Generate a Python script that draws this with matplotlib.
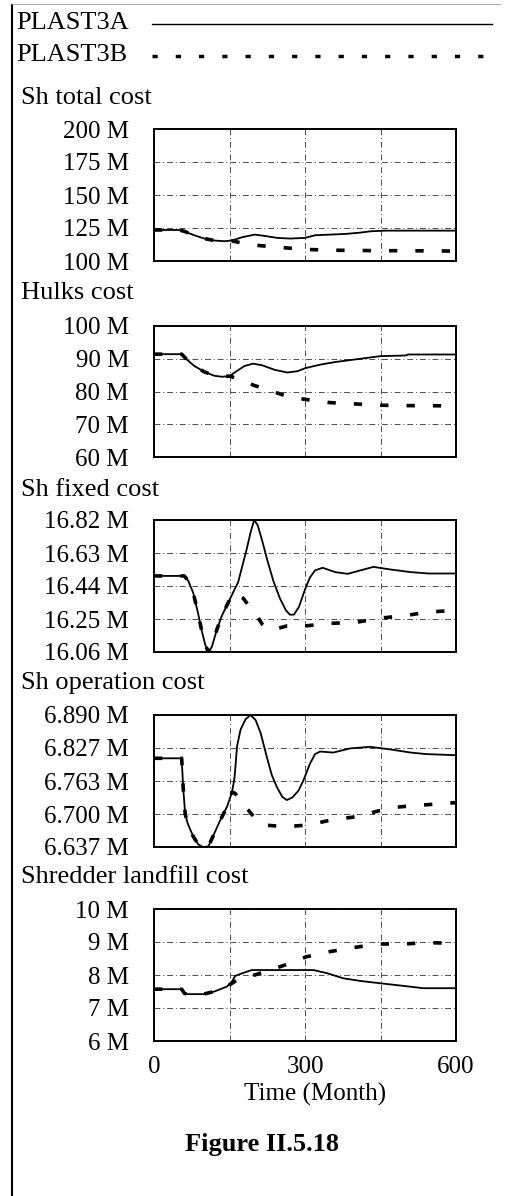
import matplotlib
matplotlib.use("Agg")
import matplotlib.pyplot as plt
from matplotlib.lines import Line2D

plt.rcParams['font.family'] = ['Liberation Serif', 'DejaVu Serif']

W, H = 506, 1196

# time axis
x_ticks = [0, 150, 300, 450, 600]
x_labels = ['0', '', '300', '', '600']

# Sh total cost (M)
total_t_a = [0, 50, 60, 80, 100, 120, 140, 155, 175, 200, 220, 245, 270, 300, 320, 350, 380, 410, 430, 460, 600]
total_a = [123.5, 123.5, 122.5, 119.5, 117, 115.5, 115, 115.5, 118, 120, 119, 117.5, 117, 117.5, 119.5, 120, 120.5, 121.5, 122.5, 123, 123]
total_t_b = [0, 50, 60, 80, 100, 120, 140, 155, 170, 200, 230, 260, 300, 350, 400, 450, 500, 600]
total_b = [123.5, 123.5, 122.5, 119.5, 117, 115.5, 115, 115.2, 114, 112, 111, 110, 108.8, 108.2, 108, 107.8, 107.8, 107.5]
total_ticks = [100, 125, 150, 175, 200]
total_labels = ['100 M', '125 M', '150 M', '175 M', '200 M']

# Hulks cost (M)
hulks_t_a = [0, 55, 65, 80, 100, 120, 135, 150, 165, 180, 197, 215, 240, 265, 285, 300, 330, 360, 400, 450, 500, 505, 600]
hulks_a = [91.4, 91.4, 89.8, 87.8, 86, 84.8, 84.5, 84.7, 86.3, 87.8, 88.5, 88, 86.6, 85.8, 86.2, 87.1, 88.2, 89, 89.8, 90.8, 91, 91.3, 91.3]
hulks_t_b = [0, 55, 65, 80, 100, 120, 135, 150, 165, 177, 200, 217, 240, 255, 280, 300, 350, 400, 450, 500, 600]
hulks_b = [91.4, 91.4, 89.8, 87.8, 86, 84.8, 84.5, 84.7, 84, 83.2, 81.8, 81, 79.8, 79, 78.1, 77.6, 76.6, 76.2, 75.8, 75.7, 75.6]
hulks_ticks = [60, 70, 80, 90, 100]
hulks_labels = ['60 M', '70 M', '80 M', '90 M', '100 M']

# Sh fixed cost (M)
fixed_t_a = [0, 60, 68, 78, 87, 95, 102, 108, 115, 125, 135, 150, 160, 167, 175, 184, 192, 199, 206, 215, 225, 237,
             250, 262, 270, 278, 288, 300, 310, 320, 335, 360, 385, 410, 436, 470, 510, 545, 600]
fixed_a = [16.498, 16.498, 16.47, 16.40, 16.29, 16.18, 16.10, 16.06, 16.09, 16.19, 16.27, 16.36, 16.42, 16.46, 16.55,
           16.65, 16.75, 16.82, 16.79, 16.70, 16.59, 16.47, 16.37, 16.30, 16.275, 16.275, 16.32, 16.42, 16.49, 16.53,
           16.545, 16.52, 16.51, 16.53, 16.55, 16.535, 16.52, 16.512, 16.512]
fixed_t_b = [0, 60, 68, 78, 87, 95, 102, 108, 115, 125, 135, 150, 160, 177, 190, 204, 215, 227, 245, 264, 300, 350,
             400, 450, 500, 545, 600]
fixed_b = [16.498, 16.498, 16.47, 16.40, 16.29, 16.18, 16.10, 16.06, 16.09, 16.19, 16.27, 16.36, 16.40, 16.37, 16.32,
           16.27, 16.22, 16.19, 16.195, 16.21, 16.21, 16.225, 16.23, 16.255, 16.27, 16.29, 16.30]
fixed_ticks = [16.06, 16.25, 16.44, 16.63, 16.82]
fixed_labels = ['16.06 M', '16.25 M', '16.44 M', '16.63 M', '16.82 M']

# Sh operation cost (M)
oper_t_a = [0, 55, 58, 62, 67, 78, 88, 97, 108, 117, 130, 145, 155, 160, 165, 172, 182, 192, 202, 212, 224, 234, 244,
            255, 264, 275, 287, 297, 310, 320, 330, 356, 390, 429, 470, 510, 542, 600]
oper_a = [6.807, 6.807, 6.75, 6.70, 6.682, 6.657, 6.642, 6.637, 6.638, 6.657, 6.685, 6.714, 6.742, 6.77, 6.83, 6.862,
          6.882, 6.890, 6.880, 6.855, 6.810, 6.775, 6.752, 6.733, 6.727, 6.732, 6.745, 6.765, 6.797, 6.815, 6.820,
          6.818, 6.826, 6.829, 6.824, 6.818, 6.815, 6.813]
oper_t_b = [0, 55, 58, 62, 67, 78, 88, 97, 108, 117, 130, 145, 155, 161, 175, 187, 200, 220, 260, 306, 353, 402, 445,
            489, 542, 600]
oper_b = [6.807, 6.807, 6.75, 6.70, 6.682, 6.657, 6.642, 6.637, 6.638, 6.657, 6.685, 6.714, 6.742, 6.740, 6.72, 6.708,
          6.693, 6.679, 6.676, 6.679, 6.689, 6.695, 6.706, 6.714, 6.718, 6.722]
oper_ticks = [6.637, 6.700, 6.763, 6.827, 6.890]
oper_labels = ['6.637 M', '6.700 M', '6.763 M', '6.827 M', '6.890 M']

# Shredder landfill cost (M)
land_t_a = [0, 55, 60, 65, 98, 120, 145, 155, 161, 175, 194, 317, 345, 376, 410, 449, 490, 535, 600]
land_a = [7.57, 7.57, 7.45, 7.42, 7.42, 7.50, 7.65, 7.80, 7.97, 8.05, 8.15, 8.15, 8.05, 7.90, 7.82, 7.75, 7.68, 7.60, 7.60]
land_t_b = [0, 55, 60, 65, 98, 120, 145, 165, 181, 200, 220, 260, 302, 350, 396, 446, 495, 545, 600]
land_b = [7.57, 7.57, 7.45, 7.42, 7.42, 7.50, 7.65, 7.85, 7.90, 8.00, 8.10, 8.30, 8.55, 8.71, 8.83, 8.94, 8.94, 8.98, 8.96]
land_ticks = [6, 7, 8, 9, 10]
land_labels = ['6 M', '7 M', '8 M', '9 M', '10 M']

panels = [
    ('Sh total cost', total_t_a, total_a, total_t_b, total_b, total_ticks, total_labels, 98, 129, 261),
    ('Hulks cost', hulks_t_a, hulks_a, hulks_t_b, hulks_b, hulks_ticks, hulks_labels, 293, 326, 457),
    ('Sh fixed cost', fixed_t_a, fixed_a, fixed_t_b, fixed_b, fixed_ticks, fixed_labels, 490, 520, 652),
    ('Sh operation cost', oper_t_a, oper_a, oper_t_b, oper_b, oper_ticks, oper_labels, 683, 715, 847),
    ('Shredder landfill cost', land_t_a, land_a, land_t_b, land_b, land_ticks, land_labels, 877, 909, 1041),
]


def fx(px):
    return px / W


def fy(py):
    return 1 - py / H


fig = plt.figure(figsize=(W / 100, H / 100), dpi=100)

# frame of the figure
fig.add_artist(Line2D([fx(12), fx(12)], [fy(5), fy(1196)], color='black', lw=1.5))
fig.add_artist(Line2D([fx(12), fx(500)], [fy(4), fy(4)], color='0.6', lw=0.6))

# legend
fig.text(fx(16), fy(23), 'PLAST3A', fontsize=19, va='center', ha='left')
fig.text(fx(16), fy(55), 'PLAST3B', fontsize=19, va='center', ha='left')
fig.add_artist(Line2D([fx(152), fx(492)], [fy(24), fy(24)], color='black', lw=1.0))
fig.add_artist(Line2D([fx(152), fx(492)], [fy(56), fy(56)], color='black', lw=2.5,
                      linestyle=(0, (1.5, 5.2)), dash_capstyle='butt'))

ax_left, ax_right = 154, 456
for i, (title, ta, va, tb, vb, yt, yl, ty, top, bot) in enumerate(panels):
    fig.text(fx(21), fy(ty), title, fontsize=19, va='center', ha='left')
    ax = fig.add_axes([fx(ax_left), fy(bot), fx(ax_right - ax_left), (bot - top) / H])
    ax.plot(ta, va, color='black', lw=1.3)
    ax.plot(tb, vb, color='black', lw=2.6, linestyle=(0, (2.3, 5.0)), dash_capstyle='butt')
    ax.set_xlim(0, 600)
    ax.set_ylim(yt[0], yt[-1])
    ax.set_yticks(yt)
    ax.set_yticklabels(yl, fontsize=18)
    ax.set_xticks(x_ticks)
    if i == len(panels) - 1:
        ax.set_xticklabels(x_labels, fontsize=18)
    else:
        ax.set_xticklabels([])
    ax.tick_params(length=0, pad=18)
    ax.tick_params(axis='x', pad=11)
    ax.grid(True, color='0.3', lw=0.7, linestyle=(0, (6, 3, 1, 3)))
    for s in ax.spines.values():
        s.set_linewidth(1.4)

fig.text(fx(315), fy(1094), 'Time (Month)', fontsize=18, va='center', ha='center')
fig.text(fx(262), fy(1145), 'Figure II.5.18', fontsize=19, fontweight='bold', va='center', ha='center')

fig.savefig('out.png', dpi=100)
